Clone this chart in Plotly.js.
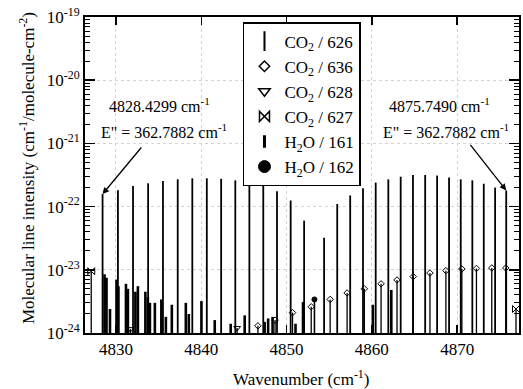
<!DOCTYPE html>
<html>
<head>
<meta charset="utf-8">
<script src="https://cdn.plot.ly/plotly-3.0.1.min.js"></script>
<style>html,body{margin:0;padding:0;background:#fff;}#chart{width:523px;height:389px;}</style>
</head>
<body>
<div id="chart"></div>
<script>
// ---- data (wavenumber cm-1, intensity cm-1/molecule-cm-2) ----
const co2_626_wn = [4828.43,4830.23,4832.00,4833.77,4835.51,4837.24,4838.95,4840.65,4842.33,4843.99,4845.64,4847.27,4848.88,4850.48,4852.06,
                    4854.40,4855.94,4857.46,4858.96,4860.45,4861.93,4863.38,4864.82,4866.25,4867.65,4869.05,4870.42,4871.78,4873.12,4874.45,4875.75];
const co2_626_int = [1.58e-22,1.82e-22,2.12e-22,2.34e-22,2.55e-22,2.70e-22,2.80e-22,2.80e-22,2.75e-22,2.60e-22,2.45e-22,2.15e-22,1.75e-22,1.25e-22,6.0e-23,
                     3.2e-23,1.10e-22,1.50e-22,1.95e-22,2.40e-22,2.70e-22,2.97e-22,3.16e-22,3.16e-22,3.10e-22,2.90e-22,2.70e-22,2.60e-22,2.30e-22,2.00e-22,1.80e-22];

const co2_636_wn = [4846.64,4848.65,4850.70,4852.89,4855.11,4857.10,4859.12,4861.08,4862.95,4864.85,4866.81,4868.68,4870.55,4872.26,4874.06,4875.70];
const co2_636_int = [1.3e-24,1.6e-24,2.1e-24,2.6e-24,3.4e-24,4.3e-24,5.0e-24,6.0e-24,6.9e-24,7.8e-24,8.9e-24,9.7e-24,1.03e-23,1.05e-23,1.07e-23,1.07e-23];

const co2_628_wn = [4831.70,4844.20];
const co2_628_int = [1.15e-24,1.2e-24];

const co2_627_wn = [4827.10,4876.90];
const co2_627_int = [9.5e-24,2.4e-24];

const h2o_161_wn = [4828.66,4828.89,4829.30,4830.06,4830.29,4831.17,4831.40,4832.28,4832.57,4833.45,4833.74,4833.98,4834.56,4835.32,4835.85,4836.55,
                    4838.19,4838.54,4840.02,4841.58,4843.45,4845.09,4847.43,4847.84,4848.36,4851.05,4851.93,4860.12,4862.28];
const h2o_161_int = [8.5e-24,7.5e-24,2.4e-24,7.0e-24,5.5e-24,6.0e-24,5.0e-24,4.5e-24,5.5e-24,4.5e-24,3.7e-24,3.0e-24,3.0e-24,3.4e-24,1.8e-24,2.8e-24,
                     3.0e-24,2.0e-24,3.2e-24,1.6e-24,1.4e-24,1.9e-24,1.5e-24,1.7e-24,1.8e-24,1.4e-24,3.1e-24,2.8e-24,4.8e-24];

const h2o_162_wn = [4853.27];
const h2o_162_int = [3.4e-24];

const legendNames = ['CO<sub>2</sub> / 626','CO<sub>2</sub> / 636','CO<sub>2</sub> / 628','CO<sub>2</sub> / 627','H<sub>2</sub>O / 161','H<sub>2</sub>O / 162'];
const yTickVals = [1e-24,1e-23,1e-22,1e-21,1e-20,1e-19];
const yTickText = ['10<sup>-24</sup>','10<sup>-23</sup>','10<sup>-22</sup>','10<sup>-21</sup>','10<sup>-20</sup>','10<sup>-19</sup>'];
const xTickVals = [4830,4840,4850,4860,4870];

// ---- helpers ----
const BASE = 5e-25;
function sticks(xs, ys, width){
  const X=[],Y=[];
  xs.forEach((x,i)=>{X.push(x,x,null);Y.push(BASE,ys[i],null);});
  return {x:X,y:Y,type:'scatter',mode:'lines',line:{color:'#000',width:width},showlegend:false,hoverinfo:'skip'};
}
function tops(xs, ys, symbol, size){
  return {x:xs,y:ys,type:'scatter',mode:'markers',showlegend:false,
    marker:{symbol:symbol,size:size,color:'#000',line:{color:'#000',width:1}}};
}
function legendItem(name, symbol, size, lw){
  return {x:[null],y:[null],type:'scatter',mode:'markers',name:name,showlegend:true,
    marker:{symbol:symbol,size:size,color:'#000',line:{color:'#000',width:lw}}};
}

const traces = [
  sticks(h2o_161_wn,h2o_161_int,2.6),
  sticks(co2_636_wn,co2_636_int,1.3),
  sticks(co2_628_wn,co2_628_int,1.3),
  sticks(co2_627_wn,co2_627_int,1.3),
  sticks(h2o_162_wn,h2o_162_int,1.6),
  sticks(co2_626_wn,co2_626_int,1.8),
  tops(co2_636_wn,co2_636_int,'diamond-open',5),
  tops(co2_628_wn,co2_628_int,'triangle-down-open',6),
  tops(co2_627_wn,co2_627_int,'bowtie-open',7),
  tops(h2o_162_wn,h2o_162_int,'circle',5),
  legendItem(legendNames[0],'line-ns-open',14,2),
  legendItem(legendNames[1],'diamond-open',8,1.5),
  legendItem(legendNames[2],'triangle-down-open',10,1.5),
  legendItem(legendNames[3],'bowtie-open',10,1.5),
  legendItem(legendNames[4],'line-ns-open',9,3),
  legendItem(legendNames[5],'circle',12,1)
];

const F = 'Liberation Serif, Times New Roman, serif';
const layout = {
  width:523, height:389,
  margin:{l:85,r:4,t:17,b:56,autoexpand:false},
  paper_bgcolor:'#fff', plot_bgcolor:'#fff',
  font:{family:F,size:17,color:'#000'},
  showlegend:true,
  legend:{x:0.364,y:0.984,xanchor:'left',yanchor:'top',bgcolor:'#fff',bordercolor:'#000',borderwidth:1.5,
          font:{family:F,size:17,color:'#000'},tracegroupgap:0},
  xaxis:{range:[4826.37,4877.25],tickvals:xTickVals,ticks:'inside',ticklen:8,tickwidth:1.5,tickcolor:'#000',
         showline:true,linecolor:'#000',linewidth:2,mirror:'allticks',automargin:false,
         showgrid:true,gridcolor:'#d4d4d4',griddash:'dot',gridwidth:1,zeroline:false,
         tickfont:{family:F,size:17}},
  yaxis:{type:'log',range:[-24,-19],tickvals:yTickVals,ticktext:yTickText,ticks:'inside',ticklen:10,tickwidth:1.5,tickcolor:'#000',
         showline:true,linecolor:'#000',linewidth:2,mirror:'allticks',automargin:false,
         showgrid:true,gridcolor:'#d4d4d4',griddash:'dot',gridwidth:1,zeroline:false,
         minor:{ticks:'inside',ticklen:5,tickcolor:'#000',tickwidth:1,dtick:'D1',showgrid:false},
         tickfont:{family:F,size:17}},
  annotations:[
    {xref:'paper',yref:'paper',x:0.4988,y:-0.1424,text:'Wavenumber (cm<sup>-1</sup>)',showarrow:false,xanchor:'center',yanchor:'middle',font:{family:F,size:17}},
    {xref:'paper',yref:'paper',x:-0.1336,y:0.522,text:'Molecular line intensity (cm<sup>-1</sup>/molecule-cm<sup>-2</sup>)',textangle:-90,showarrow:false,xanchor:'center',yanchor:'middle',font:{family:F,size:17}},
    {xref:'paper',yref:'paper',x:0.1728,y:0.7215,text:'4828.4299 cm<sup>-1</sup>',showarrow:false,xanchor:'center',yanchor:'middle',font:{family:F,size:16}},
    {xref:'paper',yref:'paper',x:0.182,y:0.6377,text:'E" = 362.7882 cm<sup>-1</sup>',showarrow:false,xanchor:'center',yanchor:'middle',font:{family:F,size:16}},
    {xref:'paper',yref:'paper',x:0.8157,y:0.7215,text:'4875.7490 cm<sup>-1</sup>',showarrow:false,xanchor:'center',yanchor:'middle',font:{family:F,size:16}},
    {xref:'paper',yref:'paper',x:0.8318,y:0.6377,text:'E" = 362.7882 cm<sup>-1</sup>',showarrow:false,xanchor:'center',yanchor:'middle',font:{family:F,size:16}},
    {x:co2_626_wn[0],y:Math.log10(co2_626_int[0]),xref:'x',yref:'y',text:'',showarrow:true,arrowhead:2,arrowsize:1,arrowwidth:1.3,arrowcolor:'#000',ax:40,ay:-48},
    {x:co2_626_wn[co2_626_wn.length-1],y:Math.log10(co2_626_int[co2_626_int.length-1]),xref:'x',yref:'y',text:'',showarrow:true,arrowhead:2,arrowsize:1,arrowwidth:1.3,arrowcolor:'#000',ax:-37,ay:-47}
  ]
};
Plotly.newPlot('chart',traces,layout,{displayModeBar:false,staticPlot:true});
</script>
</body>
</html>
